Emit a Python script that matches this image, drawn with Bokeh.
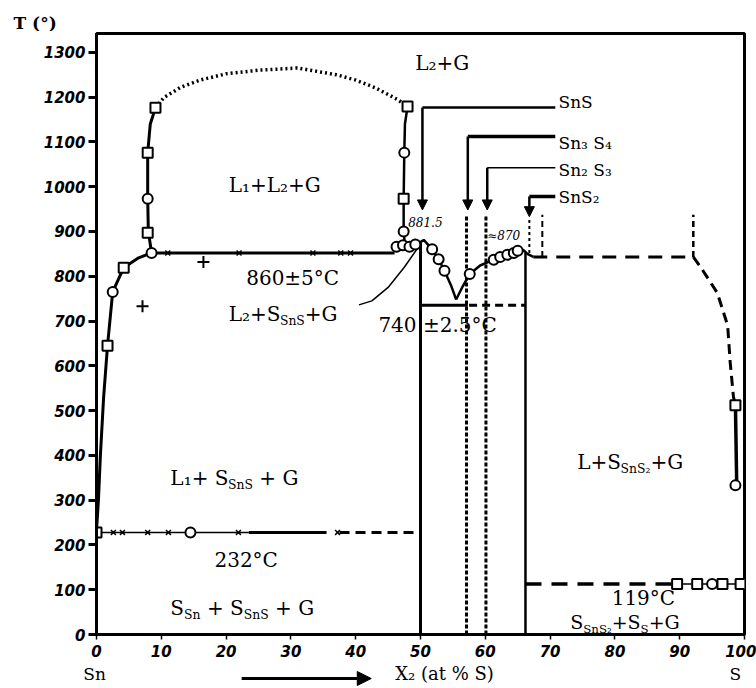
from bokeh.plotting import figure
from bokeh.layouts import column
from bokeh.models import Range1d, FixedTicker, Arrow, NormalHead, ColumnDataSource
from bokeh.core.properties import value
from bokeh.embed import file_html
from bokeh.resources import INLINE

# ---------------- data ----------------
y_ticks = [0, 100, 200, 300, 400, 500, 600, 700, 800, 900, 1000, 1100, 1200, 1300]
x_ticks = [0, 10, 20, 30, 40, 50, 60, 70, 80, 90, 100]

liq_sn_x = [0, 0.3, 0.6, 1.1, 1.7, 2.5, 4.2, 6.5, 8.5]
liq_sn_t = [232, 300, 400, 530, 645, 765, 819, 841, 852]
l1_x = [8.5, 8.0, 7.9, 7.9, 7.9, 8.3, 9.1]
l1_t = [852, 900, 975, 1030, 1076, 1140, 1176]
dome_x = [9.1, 10.4, 13, 16, 20, 25, 31, 37, 40, 43, 46.4, 48]
dome_t = [1176, 1199, 1222, 1238, 1252, 1260, 1265, 1250, 1238, 1221, 1195, 1179]
l2_x = [48, 47.6, 47.5, 47.4, 47.4, 47.6]
l2_t = [1179, 1140, 1076, 973, 900, 870]

mono_x = [8.5, 46.0]
mono_t = [852, 852]

sns_x = [47.6, 48.5, 49.3, 50.5, 51.8, 52.8, 53.7, 54.7, 55.5]
sns_t = [862, 864, 870, 881, 860, 838, 812, 780, 748]
sns2_x = [55.5, 56.5, 57.6, 59.2, 61.3, 62.3, 63.4, 64.4, 65.0, 65.9, 66.5, 67.4]
sns2_t = [748, 777, 805, 824, 837, 843, 848, 852, 857, 858, 850, 843]

eut_solid_x = [50.0, 57.3]
eut_dash_x = [57.5, 66.2]
eut_t = 735

sn_line_thin_x = [0, 23.5]
sn_line_thick_x = [23.5, 35.5]
sn_line_dash_x = [37.5, 50.0]
sn_t = 228

s_line_dash_x = [66.2, 89.0]
s_line_solid_x = [89.0, 100.0]
s_t = 113

sns2_dash_x = [67.4, 92.1]
sns2_dash_t = [843, 843]
right_x = [92.1, 93.2, 95.8, 97.4, 97.8, 98.3, 98.6]
right_t = [843, 821, 763, 690, 606, 530, 512]
s_liq_x = [98.6, 98.8]
s_liq_t = [512, 333]

leader_x = [40.5, 42.5, 45.0, 47.5, 50.0]
leader_t = [736, 745, 775, 820, 872]

comp_names = ["SnS", "Sn₃ S₄", "Sn₂ S₃", "SnS₂"]
comp_x = [50.3, 57.3, 60.3, 66.8]
comp_level = [1177, 1112, 1042, 978]
comp_tip = [948, 948, 948, 933]
comp_width = [2.5, 3.5, 1.5, 3.5]

sq_x = [1.7, 4.2, 7.9, 7.9, 9.1, 48.0, 47.4, 0.0, 98.6, 89.6, 92.7, 96.6, 99.4]
sq_t = [645, 819, 897, 1076, 1176, 1179, 973, 228, 512, 113, 113, 113, 113]
ci_x = [2.5, 8.5, 7.9, 47.5, 47.4, 46.3, 47.3, 48.3, 49.2, 14.5, 98.6, 95.0,
        51.8, 52.8, 53.7, 57.6, 61.3, 62.3, 63.4, 64.4, 65.0]
ci_t = [765, 852, 973, 1076, 900, 866, 869, 866, 871, 228, 333, 113,
        860, 838, 812, 805, 837, 843, 848, 852, 857]
cross_x = [11, 22, 33.4, 37.7, 39.2, 2.6, 4.0, 7.9, 11.1, 21.9, 37.2]
cross_t = [852, 852, 852, 852, 852, 228, 228, 228, 228, 228, 228]
plus_x = [7.1, 16.5]
plus_t = [733, 832]

K = "black"
SERIF = "DejaVu Serif"

# ---------------- main figure ----------------
p = figure(width=756, height=633, output_backend="svg", toolbar_location=None,
           x_range=Range1d(0, 100), y_range=Range1d(0, 1342),
           min_border_left=96, min_border_right=12, min_border_top=2, min_border_bottom=30)
p.frame_align = False
p.xgrid.visible = False
p.ygrid.visible = False
p.outline_line_color = K
p.outline_line_width = 3
p.background_fill_color = "white"
p.border_fill_color = "white"

for ax, ticks in ((p.yaxis[0], y_ticks), (p.xaxis[0], x_ticks)):
    ax.ticker = FixedTicker(ticks=ticks)
    ax.axis_line_width = 3
    ax.axis_line_color = K
    ax.minor_tick_line_color = None
    ax.major_tick_in = 0
    ax.major_label_text_font = "DejaVu Sans"
    ax.major_label_text_font_style = "bold italic"
    ax.major_label_text_color = K
    ax.major_label_text_font_size = "15px"
p.yaxis.major_tick_out = 8
p.yaxis.major_tick_line_width = 3
p.yaxis.major_label_standoff = 3
p.xaxis.major_tick_out = 5
p.xaxis.major_tick_line_width = 1.5
p.xaxis.major_label_standoff = 5

# curves
p.line(liq_sn_x, liq_sn_t, line_color=K, line_width=3)
p.line(l1_x, l1_t, line_color=K, line_width=3)
p.line(dome_x, dome_t, line_color=K, line_width=3.5, line_dash="2 3")
p.line(l2_x, l2_t, line_color=K, line_width=2.5)
p.line(mono_x, mono_t, line_color=K, line_width=3)
p.line(sns_x, sns_t, line_color=K, line_width=2.5)
p.line(sns2_x, sns2_t, line_color=K, line_width=2.5)
p.line(eut_solid_x, [eut_t, eut_t], line_color=K, line_width=3)
p.line(eut_dash_x, [eut_t, eut_t], line_color=K, line_width=3, line_dash="8 5")
p.line(sn_line_thin_x, [sn_t, sn_t], line_color=K, line_width=1.5)
p.line(sn_line_thick_x, [sn_t, sn_t], line_color=K, line_width=3)
p.line(sn_line_dash_x, [sn_t, sn_t], line_color=K, line_width=3, line_dash="10 6")
p.line(s_line_dash_x, [s_t, s_t], line_color=K, line_width=3.5, line_dash="16 10")
p.line(s_line_solid_x, [s_t, s_t], line_color=K, line_width=1.5)
p.line(sns2_dash_x, sns2_dash_t, line_color=K, line_width=3, line_dash="14 9")
p.line(right_x, right_t, line_color=K, line_width=3, line_dash="10 6")
p.line(s_liq_x, s_liq_t, line_color=K, line_width=3.5)
p.line(leader_x, leader_t, line_color=K, line_width=1.5)

# compound verticals
p.line([50.0, 50.0], [0, 875], line_color=K, line_width=3)
p.line([66.2, 66.2], [0, 852], line_color=K, line_width=2.5)
p.line([57.1, 57.1], [0, 935], line_color=K, line_width=3, line_dash="4 2")
p.line([60.1, 60.1], [0, 935], line_color=K, line_width=3, line_dash="4 2")
p.line([66.8, 66.8], [852, 928], line_color=K, line_width=2, line_dash="3 3")
p.line([68.8, 68.8], [843, 937], line_color=K, line_width=2, line_dash="6 4")
p.line([92.1, 92.1], [843, 937], line_color=K, line_width=2.5, line_dash="6 4")

# compound pointer arrows
for cx, lev, tip, w in zip(comp_x, comp_level, comp_tip, comp_width):
    p.line([cx, 70.8], [lev, lev], line_color=K, line_width=w)
    p.add_layout(Arrow(end=NormalHead(size=10, fill_color=K, line_color=K),
                       x_start=cx, y_start=lev, x_end=cx, y_end=tip,
                       line_color=K, line_width=2.5))

# markers
p.scatter(cross_x, cross_t, marker="x", size=7, line_color=K, line_width=1.5)
p.scatter(plus_x, plus_t, marker="cross", size=12, line_color=K, line_width=2)
p.scatter(sq_x, sq_t, marker="square", size=10, fill_color="white", line_color=K, line_width=2)
p.scatter(ci_x, ci_t, marker="circle", size=10, fill_color="white", line_color=K, line_width=2)

# ---------------- texts inside the frame ----------------
WID = {'L': .637, 'S': .685, 'G': .775, 'n': .644, '+': .838, ' ': .318, '°': .5, 'C': .734,
       '±': .838, '.': .318, '≈': .838, '₁': .4, '₂': .4, '₃': .4, '₄': .4}


def tw(s, fs):
    return sum(WID.get(c, .636) for c in s) * fs


rows = dict(x=[], y=[], text=[], xo=[], yo=[], fs=[])


def rich(x, y, parts, size):
    off = 0.0
    for txt, sub in parts:
        fs = size * 0.62 if sub else size
        lead = len(txt) - len(txt.lstrip(" "))
        off += lead * WID[' '] * fs
        core = txt.strip(" ")
        trail = len(txt.lstrip(" ")) - len(core)
        rows['x'].append(x)
        rows['y'].append(y)
        rows['text'].append(core)
        rows['xo'].append(off)
        rows['yo'].append(size * 0.33 if sub else 0)
        rows['fs'].append(f"{fs:.1f}px")
        off += tw(core, fs) + trail * WID[' '] * fs


rich(49.2, 1277, [("L₂+G", 0)], 20)
rich(20.4, 1004, [("L₁+L₂+G", 0)], 20)
rich(23.1, 796, [("860±5°C", 0)], 20)
rich(20.4, 716, [("L₂+S", 0), ("SnS", 1), ("+G", 0)], 20)
rich(43.5, 691, [("740 ±2.5°C", 0)], 20)
rich(11.4, 349, [("L₁+ S", 0), ("SnS", 1), (" + G", 0)], 20)
rich(18.2, 166, [("232°C", 0)], 20)
rich(11.4, 60, [("S", 0), ("Sn", 1), (" + S", 0), ("SnS", 1), (" + G", 0)], 20)
rich(74.2, 385, [("L+S", 0), ("SnS₂", 1), ("+G", 0)], 20)
rich(79.5, 81, [("119°C", 0)], 20)
rich(73.1, 27, [("S", 0), ("SnS₂", 1), ("+S", 0), ("S", 1), ("+G", 0)], 19)
for nm, lev in zip(comp_names, [1190, 1098, 1038, 978]):
    rich(71.3, lev, [(nm, 0)], 17)

src = ColumnDataSource(rows)
p.text(x='x', y='y', text='text', x_offset='xo', y_offset='yo', text_font_size='fs',
       source=src, text_font=value(SERIF), text_color=K,
       text_align="left", text_baseline="middle")

p.text(x=[48.1, 60.3], y=[922, 890], text=["881.5", "≈870"], text_font=value(SERIF),
       text_font_style="italic", text_font_size="12px", text_color=K,
       text_align="left", text_baseline="middle")

# ---------------- strips above and below (same x scale, full width frame) ----------------
full_x = (-96 / 6.48, 660 / 6.48)


def strip(h):
    f = figure(width=756, height=h, output_backend="svg", toolbar_location=None,
               x_range=Range1d(*full_x), y_range=Range1d(0, h),
               x_axis_location=None, y_axis_location=None,
               min_border=0, min_border_left=0, min_border_right=0,
               min_border_top=0, min_border_bottom=0)
    f.frame_align = False
    f.xgrid.visible = False
    f.ygrid.visible = False
    f.outline_line_color = None
    f.background_fill_color = "white"
    f.border_fill_color = "white"
    return f


top = strip(31)
top.text(x=[-12.8], y=[9], text=["T (°)"], text_font=value(SERIF), text_font_style="bold",
         text_font_size="17px", text_color=K, text_align="left", text_baseline="middle")

bot = strip(24)
bot.text(x=[-0.3, 98.6], y=[15, 15], text=["Sn", "S"], text_font=value(SERIF),
         text_font_size="17px", text_color=K, text_align="center", text_baseline="middle")
bot.text(x=[46.1], y=[15], text=["X₂ (at % S)"], text_font=value(SERIF),
         text_font_size="18px", text_color=K, text_align="left", text_baseline="middle")
bot.add_layout(Arrow(end=NormalHead(size=14, fill_color=K, line_color=K),
                     x_start=22.4, y_start=10, x_end=42.4, y_end=10,
                     line_color=K, line_width=3))

layout = column(top, p, bot, spacing=0)
open("out.html", "w").write(file_html(layout, INLINE))
